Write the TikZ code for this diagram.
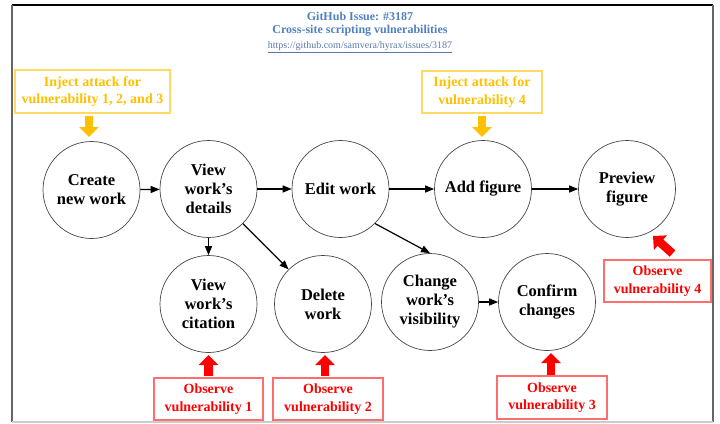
\documentclass[tikz,border=0pt]{standalone}
\usepackage{fontspec}
\setmainfont{Liberation Serif}
\usetikzlibrary{arrows.meta}
\definecolor{titleblue}{RGB}{79,129,189}
\definecolor{urlblue}{RGB}{90,120,170}
\definecolor{injtext}{RGB}{255,192,0}
\definecolor{injborder}{RGB}{255,217,102}
\definecolor{obsborder}{RGB}{255,110,110}
\definecolor{circgray}{RGB}{70,70,70}
\tikzset{
  state/.style={circle, draw=circgray, line width=0.7pt, minimum size=97pt, inner sep=0pt,
    align=center, font=\fontsize{16.5}{19}\selectfont\bfseries},
  flow/.style={line width=1.2pt, -{Triangle[length=9pt,width=7pt]}},
  injbox/.style={draw=injborder, line width=1.1pt, text=injtext, align=center,
    font=\fontsize{14}{17.5}\selectfont\bfseries, inner sep=0pt},
  obsbox/.style={draw=obsborder, line width=1.1pt, text=red, align=center,
    font=\fontsize{14}{17.5}\selectfont\bfseries, inner sep=0pt},
  injarrow/.style={draw=injtext, line width=8.5pt, -{Triangle[length=10pt,width=19pt]}},
  obsarrow/.style={draw=red, line width=8.5pt, -{Triangle[length=10pt,width=19pt]}},
  titletext/.style={text=titleblue, font=\fontsize{12}{14}\selectfont\bfseries},
}
\begin{document}
\begin{tikzpicture}[x=1pt,y=-1pt]
\useasboundingbox (0,0) rectangle (720,423);
% frame
\draw[black, line width=1.4pt] (12,5) -- (713,5);
\draw[gray!80!black, line width=1.4pt] (12,5) -- (12,422);
\draw[gray!80!black, line width=1.2pt] (713,5) -- (713,422);
\draw[gray!40, line width=1.2pt] (12,422) -- (713,422);
% title
\node[titletext] (t1) at (360,16) {GitHub Issue: \#3187};
\node[titletext] (t2) at (360,31) {Cross-site scripting vulnerabilities};
\node[text=urlblue, font=\fontsize{10}{12}\selectfont] (t3) at (360,47) {\underline{https://github.com/samvera/hyrax/issues/3187}};
% states
\node[state] (create) at (91.5,190) {Create\\new work};
\node[state] (vd) at (208.5,189) {View\\work’s\\details};
\node[state] (edit) at (340.5,189) {Edit work};
\node[state] (add) at (483,189) {Add figure};
\node[state] (prev) at (627,189) {Preview\\figure};
\node[state] (cit) at (208.5,304) {View\\work’s\\citation};
\node[state] (del) at (323,304) {Delete\\work};
\node[state] (chg) at (430,302) {Change\\work’s\\visibility};
\node[state] (conf) at (547,302) {Confirm\\changes};
% flows
\draw[flow] (create) -- (vd);
\draw[flow] (vd) -- (edit);
\draw[flow] (vd.south) -- (cit.north);
\draw[flow] (vd) -- (del);
\draw[flow] (edit) -- (add);
\draw[flow] (edit.-45) -- (chg.north);
\draw[flow] (add) -- (prev);
\draw[flow] (chg) -- (conf);
% inject boxes
\node[injbox, minimum width=155pt, minimum height=43pt] (inj1) at (92.5,91.5) {Inject attack for\\vulnerability 1, 2, and 3};
\node[injbox, minimum width=120pt, minimum height=42pt] (inj2) at (482,92) {Inject attack for\\vulnerability 4};
\coordinate (i1a) at (89,116);
\coordinate (i1b) at (89,137);
\coordinate (i2a) at (482,116);
\coordinate (i2b) at (482,137);
\draw[injarrow] (i1a) -- (i1b);
\draw[injarrow] (i2a) -- (i2b);
% observe boxes
\node[obsbox, minimum width=109pt, minimum height=42pt] (obs1) at (208.5,399) {Observe\\vulnerability 1};
\node[obsbox, minimum width=110pt, minimum height=42pt] (obs2) at (328,399) {Observe\\vulnerability 2};
\node[obsbox, minimum width=110pt, minimum height=43pt] (obs3) at (552,397.5) {Observe\\vulnerability 3};
\node[obsbox, minimum width=107pt, minimum height=42pt] (obs4) at (657.5,281) {Observe\\vulnerability 4};
\coordinate (o1a) at (208.5,376);
\coordinate (o1b) at (208.5,355);
\coordinate (o2a) at (325,376);
\coordinate (o2b) at (325,355);
\coordinate (o3a) at (551,375);
\coordinate (o3b) at (551,353);
\coordinate (o4a) at (672.5,253.5);
\coordinate (o4b) at (653,236);
\draw[obsarrow] (o1a) -- (o1b);
\draw[obsarrow] (o2a) -- (o2b);
\draw[obsarrow] (o3a) -- (o3b);
\draw[obsarrow] (o4a) -- (o4b);
\end{tikzpicture}
\end{document}
